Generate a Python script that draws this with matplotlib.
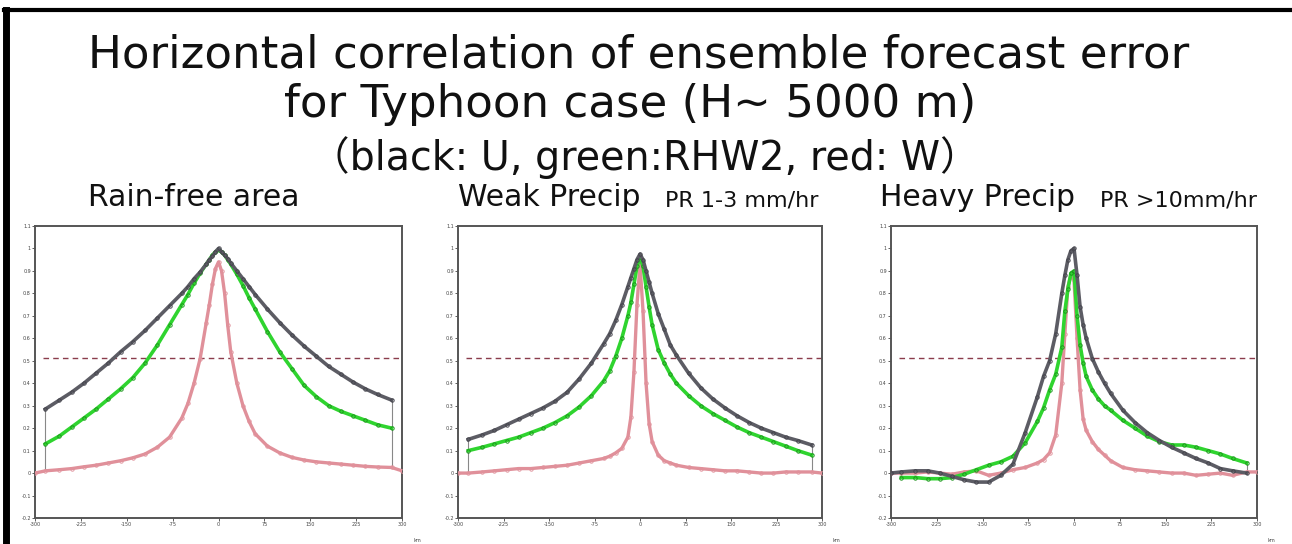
import numpy as np
import matplotlib
matplotlib.use("Agg")
from matplotlib import pyplot as plt
from matplotlib.lines import Line2D

plt.rcParams['font.family'] = ['DejaVu Sans', 'Noto Sans CJK JP']

# distance from the point (km)
x_km = [-300, -283, -260, -240, -220, -200, -180, -160, -140, -120, -100, -80, -60, -50, -40,
        -30, -20, -15, -10, -5, 0, 5, 10, 15, 20, 30, 40, 50, 60, 80, 100, 120, 140, 160,
        180, 200, 220, 240, 260, 283, 300]
nan = np.nan

# Rain-free area
u_free = [nan, 0.285, 0.325, 0.36, 0.40, 0.445, 0.49, 0.54, 0.585, 0.635, 0.69, 0.745, 0.80, 0.83, 0.865,
          0.895, 0.93, 0.95, 0.965, 0.985, 1.0, 0.985, 0.97, 0.955, 0.935, 0.90, 0.865, 0.83, 0.795, 0.73,
          0.67, 0.615, 0.565, 0.52, 0.475, 0.44, 0.405, 0.375, 0.35, 0.325, nan]
rhw2_free = [nan, 0.13, 0.165, 0.205, 0.245, 0.285, 0.33, 0.375, 0.425, 0.49, 0.57, 0.66, 0.75, 0.795, 0.845,
             0.89, 0.93, 0.95, 0.97, 0.985, 0.995, 0.985, 0.97, 0.95, 0.93, 0.885, 0.835, 0.78, 0.73, 0.63,
             0.54, 0.465, 0.39, 0.34, 0.30, 0.275, 0.255, 0.235, 0.215, 0.20, nan]
w_free = [0.0, 0.01, 0.015, 0.02, 0.028, 0.035, 0.045, 0.055, 0.068, 0.085, 0.115, 0.16, 0.245, 0.31, 0.40,
          0.51, 0.67, 0.75, 0.84, 0.91, 0.94, 0.90, 0.80, 0.66, 0.54, 0.40, 0.30, 0.23, 0.175, 0.12,
          0.09, 0.07, 0.058, 0.05, 0.045, 0.04, 0.035, 0.03, 0.027, 0.025, 0.01]

# Weak precip (PR 1-3 mm/hr)
u_weak = [nan, 0.15, 0.17, 0.19, 0.215, 0.24, 0.265, 0.29, 0.32, 0.36, 0.42, 0.49, 0.575, 0.62, 0.68,
          0.75, 0.83, 0.87, 0.91, 0.95, 0.975, 0.95, 0.90, 0.85, 0.80, 0.71, 0.64, 0.57, 0.525, 0.445,
          0.38, 0.33, 0.29, 0.255, 0.225, 0.20, 0.18, 0.16, 0.145, 0.125, nan]
rhw2_weak = [nan, 0.10, 0.115, 0.13, 0.145, 0.16, 0.18, 0.20, 0.225, 0.255, 0.295, 0.345, 0.41, 0.455, 0.52,
             0.60, 0.70, 0.76, 0.84, 0.92, 0.96, 0.92, 0.83, 0.74, 0.66, 0.55, 0.49, 0.44, 0.40, 0.345,
             0.30, 0.265, 0.235, 0.205, 0.18, 0.16, 0.14, 0.12, 0.10, 0.08, nan]
w_weak = [0.0, 0.0, 0.005, 0.01, 0.015, 0.02, 0.02, 0.025, 0.03, 0.035, 0.045, 0.055, 0.065, 0.075, 0.09,
          0.11, 0.16, 0.25, 0.45, 0.75, 0.93, 0.72, 0.40, 0.22, 0.14, 0.08, 0.055, 0.045, 0.035, 0.025,
          0.02, 0.015, 0.01, 0.01, 0.005, 0.0, 0.0, 0.005, 0.005, 0.005, 0.0]

# Heavy precip (PR > 10 mm/hr)
u_heavy = [0.0, 0.005, 0.01, 0.01, 0.0, -0.015, -0.03, -0.04, -0.04, -0.01, 0.04, 0.18, 0.34, 0.43, 0.50,
           0.62, 0.80, 0.88, 0.95, 0.99, 1.0, 0.88, 0.74, 0.66, 0.60, 0.51, 0.45, 0.40, 0.355, 0.28,
           0.225, 0.18, 0.145, 0.115, 0.09, 0.065, 0.045, 0.02, 0.01, 0.0, nan]
rhw2_heavy = [nan, -0.02, -0.02, -0.025, -0.025, -0.02, -0.005, 0.015, 0.035, 0.05, 0.075, 0.135, 0.23, 0.29, 0.37,
              0.44, 0.56, 0.72, 0.82, 0.89, 0.90, 0.70, 0.57, 0.49, 0.43, 0.37, 0.33, 0.30, 0.28, 0.235,
              0.20, 0.165, 0.14, 0.125, 0.125, 0.115, 0.10, 0.085, 0.065, 0.045, nan]
w_heavy = [0.0, 0.0, 0.0, 0.005, 0.0, -0.005, 0.005, 0.01, -0.01, 0.0, 0.015, 0.025, 0.045, 0.06, 0.09,
           0.17, 0.40, 0.62, 0.83, 0.88, 0.86, 0.60, 0.37, 0.24, 0.19, 0.14, 0.105, 0.08, 0.055, 0.025,
           0.015, 0.01, 0.005, 0.0, 0.0, -0.01, -0.005, 0.0, -0.01, 0.005, 0.005]

panel_titles = ["Rain-free area", "Weak Precip", "Heavy Precip"]
panel_notes = ["", "PR 1-3 mm/hr", "PR >10mm/hr"]
threshold = 0.513
xticks = [-300, -225, -150, -75, 0, 75, 150, 225, 300]
yticks = [-0.2, -0.1, 0, 0.1, 0.2, 0.3, 0.4, 0.5, 0.6, 0.7, 0.8, 0.9, 1, 1.1]

W, H = 1292, 544
fig = plt.figure(figsize=(W/100, H/100), dpi=100)

def px(x0, x1, top, bottom):
    return [x0/W, 1-bottom/H, (x1-x0)/W, (bottom-top)/H]

boxes = [px(35, 402, 226, 518), px(458, 822, 226, 518), px(891, 1257, 226, 518)]
panels = [(u_free, rhw2_free, w_free), (u_weak, rhw2_weak, w_weak), (u_heavy, rhw2_heavy, w_heavy)]

x = np.array(x_km, dtype=float)
for box, (u, g, r) in zip(boxes, panels):
    ax = fig.add_axes(box)
    u, g, r = np.array(u), np.array(g), np.array(r)
    # thin vertical closing line at both ends of the curves
    for i in (1, len(x)-2):
        vals = [v for v in (u[i], g[i], r[i]) if not np.isnan(v)]
        ax.vlines(x[i], min(vals), max(vals), color='#888888', lw=0.8, zorder=1)
    ax.plot([-287, 300], [threshold, threshold], color='#8a3c4c', lw=1.0, dashes=(4, 3), zorder=2)
    ax.plot(x, r, color='#e0909a', lw=2.4, marker='o', ms=2.5, mfc='none', mew=0.6, zorder=3)
    ax.plot(x, g, color='#2fd42f', lw=2.6, marker='o', ms=2.5, mfc='none', mew=0.6, mec='#189018', zorder=4)
    ax.plot(x, u, color='#5c5c64', lw=2.6, marker='o', ms=2.5, mfc='none', mew=0.6, mec='#404048', zorder=5)
    ax.set_xlim(-300, 300)
    ax.set_ylim(-0.2, 1.1)
    ax.set_xticks(xticks)
    ax.set_xticklabels([str(t) for t in xticks])
    ax.set_yticks(yticks)
    ax.set_yticklabels(['%g' % t for t in yticks])
    ax.tick_params(labelsize=3.5, length=2, width=0.6, colors='#444444', pad=1)
    for s in ax.spines.values():
        s.set_color('#555555')
        s.set_linewidth(1.4)
    ax.text(1.03, -0.07, 'km', transform=ax.transAxes, fontsize=3.5, color='#444444', va='top')

fig.text(639/W, 1-55/H, "Horizontal correlation of ensemble forecast error", ha='center', va='center',
         fontsize=32.5, color='#111111')
fig.text(630/W, 1-105/H, "for Typhoon case (H~ 5000 m)", ha='center', va='center',
         fontsize=32.5, color='#111111')
fig.text(645/W, 1-158/H, "（black: U, green:RHW2, red: W）", ha='center', va='center',
         fontsize=28.5, color='#111111')

fig.text(88/W, 1-198/H, panel_titles[0], ha='left', va='center', fontsize=21.5, color='#111111')
fig.text(458/W, 1-198/H, panel_titles[1], ha='left', va='center', fontsize=21.5, color='#111111')
fig.text(665/W, 1-200/H, panel_notes[1], ha='left', va='center', fontsize=16, color='#111111')
fig.text(880/W, 1-198/H, panel_titles[2], ha='left', va='center', fontsize=21.5, color='#111111')
fig.text(1100/W, 1-200/H, panel_notes[2], ha='left', va='center', fontsize=16, color='#111111')

# slide frame
fig.add_artist(Line2D([0.005, 0.005], [0, 1-10/H], transform=fig.transFigure, color='black', lw=5))
fig.add_artist(Line2D([0.003, 1], [1-10/H, 1-10/H], transform=fig.transFigure, color='black', lw=3))

fig.savefig("out.png", dpi=100)
